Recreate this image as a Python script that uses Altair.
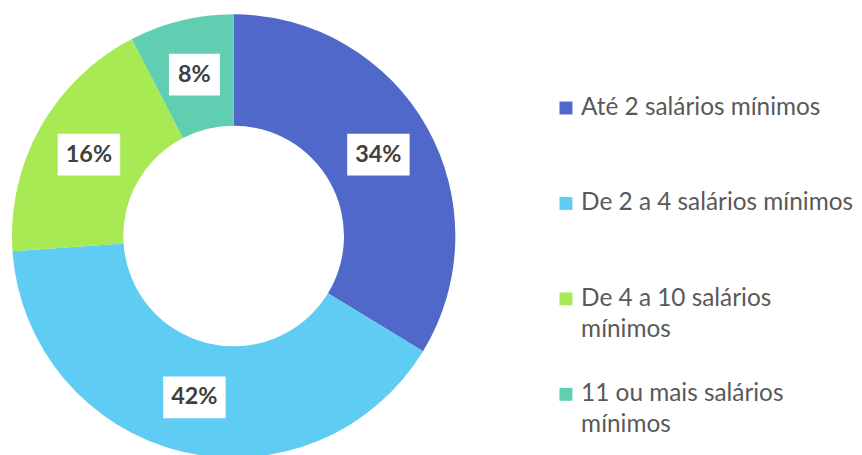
import altair as alt
import pandas as pd

categories = [
    "Até 2 salários mínimos",
    "De 2 a 4 salários mínimos",
    "De 4 a 10 salários mínimos",
    "11 ou mais salários mínimos",
]
shares = [33.7, 40.2, 18.5, 7.6]
labels = ["34%", "42%", "16%", "8%"]
colors = ["#4F68C9", "#5FCCF3", "#A8EA54", "#5FCEB1"]

df = pd.DataFrame({"cat": categories, "share": shares, "label": labels, "order": list(range(len(categories)))})

W, H = 454, 456
R_OUT, R_IN, R_LAB = 223, 111, 167

wrap_expr = (
    "length(datum.label) > 25 ? "
    "[substring(datum.label, 0, lastindexof(datum.label, ' ')), "
    "substring(datum.label, lastindexof(datum.label, ' ') + 1)] : datum.label"
)

color = alt.Color(
    "cat:N",
    scale=alt.Scale(domain=categories, range=colors),
    legend=alt.Legend(
        title=None,
        orient="none",
        legendX=549,
        legendY=87,
        symbolType="square",
        symbolSize=169,
        symbolStrokeWidth=0,
        labelFont="Lato",
        labelFontSize=24.5,
        labelColor="#595959",
        labelLimit=400,
        labelOffset=3,
        rowPadding=40,
        gridAlign="all",
        padding=0,
        labelExpr=wrap_expr,
    ),
)

base = alt.Chart(df)

arc = base.mark_arc(outerRadius=R_OUT, innerRadius=R_IN).encode(
    theta=alt.Theta("share:Q", stack=True),
    color=color,
    order=alt.Order("order:Q"),
)

pos = (
    base.transform_joinaggregate(total="sum(share)")
    .transform_window(cum="sum(share)", sort=[alt.SortField("order")], frame=[None, 0])
    .transform_calculate(
        mid=f"(datum.cum - datum.share / 2) / datum.total * 2 * PI",
    )
    .transform_calculate(
        px=f"{R_LAB} * sin(datum.mid)",
        py=f"{R_LAB} * cos(datum.mid)",
        bw="11.6 * length(datum.label) + 28",
    )
    .transform_calculate(
        x1="datum.px - datum.bw / 2",
        x2="datum.px + datum.bw / 2",
        y1="datum.py - 21",
        y2="datum.py + 21",
    )
)

xs = alt.Scale(domain=[-W / 2, W / 2], nice=False, zero=False)
ys = alt.Scale(domain=[-H / 2, H / 2], nice=False, zero=False)

boxes = pos.mark_rect(color="white").encode(
    x=alt.X("x1:Q", scale=xs, axis=None),
    x2="x2:Q",
    y=alt.Y("y1:Q", scale=ys, axis=None),
    y2="y2:Q",
)

texts = pos.mark_text(font="Lato", fontWeight="bold", fontSize=23.5, color="#404040").encode(
    x=alt.X("px:Q", scale=xs, axis=None),
    y=alt.Y("py:Q", scale=ys, axis=None),
    text="label:N",
)

chart = (
    alt.layer(arc, boxes, texts)
    .properties(width=W, height=H, padding=0)
    .configure(style={"guide-label": {"lineHeight": 31}})
    .configure_view(stroke=None)
)

chart.save("out.html", embed_options={"renderer": "svg", "actions": False})
